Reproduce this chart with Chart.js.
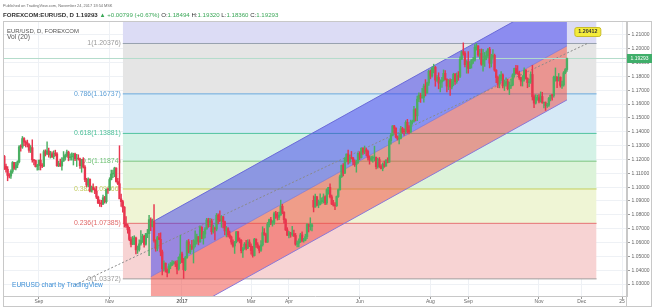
<!DOCTYPE html>
<html>
<head>
<meta charset="utf-8">
<title>EURUSD daily</title>
<script src="https://cdn.jsdelivr.net/npm/chart.js@4.4.1/dist/chart.umd.min.js"></script>
<style>
  html, body { margin: 0; padding: 0; background: #ffffff; }
  #chart { display: block; }
</style>
</head>
<body>
<canvas id="chart" width="654" height="308"></canvas>
<script>
// FOREXCOM:EURUSD daily bars, 1 Aug 2016 .. 24 Nov 2017 (bar index 0..344), one line per month
const opens = [
  1.1173,1.1163,1.1223,1.1150,1.1129,1.1085,1.1080,1.1114,1.1178,1.1138,1.1160,1.1183,1.1291,1.1290,1.1351,1.1326,1.1320,1.1308,1.1266,1.1285,1.1197,1.1192,1.1148,
  1.1157,1.1195,1.1155,1.1152,1.1256,1.1240,1.1262,1.1233,1.1240,1.1220,1.1245,1.1240,1.1155,1.1170,1.1153,1.1188,1.1210,1.1228,1.1253,1.1213,1.1218,1.1222,
  1.1240,1.1205,1.1207,1.1205,1.1155,1.1201,1.1145,1.1055,1.1015,1.1057,1.0972,1.1000,1.0982,1.0972,1.0928,1.0885,1.0882,1.0878,1.0923,1.0895,1.0985,
  1.0981,1.1055,1.1095,1.1101,1.1138,1.1040,1.1025,1.0915,1.0895,1.0855,1.0735,1.0720,1.0692,1.0622,1.0587,1.0628,1.0633,1.0547,1.0550,1.0590,1.0615,1.0645,
  1.0587,1.0663,1.0664,1.0765,1.0718,1.0752,1.0614,1.0558,1.0635,1.0623,1.0532,1.0410,1.0450,1.0400,1.0384,1.0428,1.0436,1.0453,1.0455,1.0445,1.0408,1.0493,
  1.0517,1.0457,1.0403,1.0490,1.0605,1.0532,1.0573,1.0559,1.0584,1.0613,1.0642,1.0604,1.0710,1.0631,1.0661,1.0697,1.0763,1.0732,1.0755,1.0678,1.0699,1.0697,
  1.0797,1.0765,1.0758,1.0785,1.0751,1.0684,1.0700,1.0655,1.0640,1.0603,1.0575,1.0604,1.0677,1.0617,1.0616,1.0541,1.0557,1.0588,1.0560,1.0603,
  1.0574,1.0542,1.0506,1.0624,1.0584,1.0566,1.0544,1.0583,1.0671,1.0657,1.0603,1.0732,1.0765,1.0740,1.0745,1.0808,1.0797,1.0782,1.0798,1.0862,1.0818,1.0765,1.0691,
  1.0652,1.0670,1.0660,1.0663,1.0651,1.0588,1.0595,1.0608,1.0655,1.0615,1.0617,1.0643,1.0730,1.0715,1.0715,1.0905,1.0856,1.0930,1.0870,1.0875,
  1.0895,1.0904,1.0929,1.0886,1.0982,1.0998,1.0930,1.0877,1.0870,1.0865,1.0932,1.0981,1.1075,1.1157,1.1102,1.1206,1.1239,1.1184,1.1216,1.1211,1.1183,1.1164,1.1180,
  1.1244,1.1214,1.1280,1.1252,1.1271,1.1258,1.1212,1.1196,1.1210,1.1212,1.1216,1.1148,1.1199,1.1150,1.1134,1.1166,1.1151,1.1195,1.1180,1.1335,1.1375,1.1442,
  1.1425,1.1362,1.1348,1.1353,1.1422,1.1401,1.1400,1.1468,1.1414,1.1398,1.1470,1.1476,1.1560,1.1515,1.1635,1.1664,1.1645,1.1648,1.1730,1.1680,1.1752,
  1.1836,1.1803,1.1859,1.1866,1.1773,1.1792,1.1752,1.1760,1.1772,1.1822,1.1780,1.1730,1.1770,1.1723,1.1761,1.1815,1.1762,1.1805,1.1800,1.1924,1.1978,1.1967,1.1885,
  1.1905,1.1858,1.1888,1.1918,1.1918,1.2010,1.2020,1.1955,1.1966,1.1888,1.1920,1.1945,1.1950,1.1996,1.1895,1.1940,1.1952,1.1845,1.1792,1.1745,1.1785,
  1.1811,1.1732,1.1744,1.1762,1.1711,1.1731,1.1737,1.1811,1.1857,1.1826,1.1819,1.1792,1.1766,1.1786,1.1845,1.1785,1.1755,1.1761,1.1814,1.1653,1.1607,1.1644,
  1.1645,1.1621,1.1655,1.1609,1.1610,1.1588,1.1592,1.1641,1.1665,1.1662,1.1795,1.1796,1.1768,1.1793,1.1735,1.1738,1.1826,1.18494
];
const highs = [
  1.1190,1.1234,1.1229,1.1167,1.1148,1.1098,1.1125,1.1185,1.1180,1.1180,1.1190,1.1300,1.1305,1.1366,1.1358,1.1335,1.1340,1.1315,1.1300,1.1342,1.1200,1.1195,1.1165,
  1.1195,1.1241,1.1170,1.1267,1.1270,1.1327,1.1282,1.1259,1.1255,1.1262,1.1267,1.1250,1.1188,1.1203,1.1213,1.1257,1.1239,1.1267,1.1260,1.1240,1.1247,1.1245,
  1.1246,1.1237,1.1234,1.1209,1.1200,1.1213,1.1155,1.1064,1.1068,1.1060,1.1008,1.1024,1.0995,1.1005,1.0935,1.0908,1.0905,1.0942,1.0933,1.0986,1.0994,
  1.1068,1.1124,1.1123,1.1144,1.1140,1.1063,1.1299,1.0950,1.0905,1.0860,1.0788,1.0732,1.0710,1.0640,1.0644,1.0649,1.0640,1.0575,1.0619,1.0686,1.0660,1.0652,
  1.0666,1.0695,1.0796,1.0778,1.0770,1.0874,1.0620,1.0645,1.0667,1.0670,1.0545,1.0467,1.0453,1.0410,1.0446,1.0456,1.0470,1.0466,1.0466,1.0469,1.0497,1.0653,
  1.0530,1.0485,1.0500,1.0616,1.0622,1.0585,1.0615,1.0620,1.0685,1.0660,1.0643,1.0720,1.0715,1.0680,1.0707,1.0775,1.0775,1.0775,1.0770,1.0726,1.0711,1.0810,
  1.0808,1.0829,1.0795,1.0789,1.0755,1.0716,1.0708,1.0683,1.0647,1.0620,1.0608,1.0679,1.0680,1.0633,1.0622,1.0566,1.0600,1.0616,1.0619,1.0620,
  1.0590,1.0572,1.0630,1.0626,1.0599,1.0575,1.0614,1.0714,1.0700,1.0666,1.0745,1.0770,1.0782,1.0758,1.0819,1.0826,1.0818,1.0820,1.0906,1.0876,1.0823,1.0772,1.0707,
  1.0681,1.0674,1.0716,1.0690,1.0666,1.0613,1.0626,1.0667,1.0677,1.0630,1.0660,1.0736,1.0733,1.0779,1.0737,1.0937,1.0950,1.0933,1.0907,1.0951,
  1.0923,1.0951,1.0938,1.0987,1.0999,1.1023,1.0943,1.0905,1.0888,1.0936,1.0987,1.1087,1.1160,1.1171,1.1213,1.1240,1.1268,1.1232,1.1258,1.1216,1.1198,1.1195,1.1250,
  1.1256,1.1285,1.1285,1.1297,1.1282,1.1268,1.1225,1.1224,1.1226,1.1296,1.1218,1.1208,1.1214,1.1162,1.1175,1.1188,1.1199,1.1212,1.1349,1.1389,1.1445,1.1446,
  1.1430,1.1370,1.1380,1.1439,1.1432,1.1422,1.1480,1.1490,1.1445,1.1484,1.1484,1.1583,1.1567,1.1658,1.1682,1.1679,1.1713,1.1745,1.1777,1.1758,1.1846,
  1.1846,1.1867,1.1888,1.1872,1.1805,1.1826,1.1775,1.1794,1.1847,1.1842,1.1782,1.1778,1.1782,1.1779,1.1823,1.1822,1.1825,1.1835,1.1941,1.1980,1.2042,1.1980,1.1914,
  1.1980,1.1907,1.1922,1.1938,1.2030,1.2038,1.2022,1.1995,1.1998,1.1996,1.1973,1.1984,1.2003,1.2010,1.1960,1.1994,1.1961,1.1850,1.1803,1.1812,1.1834,
  1.1818,1.1774,1.1790,1.1779,1.1761,1.1783,1.1819,1.1860,1.1880,1.1878,1.1838,1.1794,1.1806,1.1861,1.1850,1.1790,1.1781,1.1833,1.1880,1.1667,1.1668,1.1665,
  1.1669,1.1688,1.1685,1.1615,1.1616,1.1606,1.1649,1.1665,1.1671,1.1802,1.1861,1.1796,1.1821,1.1797,1.1766,1.1835,1.1857,1.19320
];
const lows = [
  1.1145,1.1155,1.1127,1.1109,1.1046,1.1066,1.1063,1.1100,1.1128,1.1125,1.1140,1.1175,1.1260,1.1280,1.1300,1.1290,1.1290,1.1250,1.1250,1.1180,1.1160,1.1145,1.1122,
  1.1125,1.1124,1.1140,1.1148,1.1225,1.1235,1.1217,1.1210,1.1212,1.1205,1.1225,1.1150,1.1148,1.1150,1.1122,1.1186,1.1195,1.1220,1.1190,1.1195,1.1195,1.1160,
  1.1192,1.1149,1.1195,1.1136,1.1107,1.1138,1.1040,1.1002,1.1004,1.0965,1.0964,1.0981,1.0953,1.0917,1.0880,1.0860,1.0858,1.0874,1.0885,1.0884,1.0955,
  1.0974,1.1052,1.1069,1.1075,1.1035,1.1017,1.0995,1.0860,1.0820,1.0712,1.0709,1.0667,1.0613,1.0569,1.0584,1.0585,1.0517,1.0521,1.0538,1.0580,1.0600,1.0567,
  1.0580,1.0635,1.0505,1.0685,1.0712,1.0603,1.0537,1.0540,1.0620,1.0504,1.0366,1.0393,1.0386,1.0352,1.0378,1.0410,1.0435,1.0445,1.0426,1.0374,1.0400,1.0448,
  1.0455,1.0340,1.0396,1.0485,1.0524,1.0520,1.0548,1.0452,1.0568,1.0590,1.0583,1.0602,1.0628,1.0588,1.0634,1.0697,1.0710,1.0715,1.0660,1.0667,1.0618,1.0684,
  1.0735,1.0750,1.0710,1.0705,1.0656,1.0640,1.0641,1.0630,1.0587,1.0567,1.0521,1.0597,1.0608,1.0597,1.0524,1.0493,1.0550,1.0546,1.0555,1.0570,
  1.0516,1.0495,1.0502,1.0565,1.0558,1.0525,1.0535,1.0574,1.0652,1.0600,1.0600,1.0712,1.0728,1.0718,1.0731,1.0774,1.0762,1.0765,1.0797,1.0808,1.0740,1.0687,1.0651,
  1.0634,1.0638,1.0646,1.0643,1.0580,1.0569,1.0568,1.0600,1.0604,1.0602,1.0612,1.0628,1.0676,1.0689,1.0683,1.0821,1.0855,1.0864,1.0851,1.0872,
  1.0882,1.0885,1.0873,1.0876,1.0949,1.0922,1.0874,1.0863,1.0838,1.0861,1.0926,1.0978,1.1070,1.1081,1.1097,1.1182,1.1166,1.1173,1.1203,1.1161,1.1150,1.1108,1.1171,
  1.1199,1.1210,1.1236,1.1241,1.1225,1.1195,1.1166,1.1187,1.1180,1.1190,1.1132,1.1137,1.1142,1.1132,1.1118,1.1143,1.1153,1.1175,1.1180,1.1311,1.1370,1.1389,
  1.1355,1.1340,1.1313,1.1349,1.1389,1.1374,1.1385,1.1390,1.1385,1.1395,1.1454,1.1469,1.1478,1.1480,1.1618,1.1612,1.1643,1.1613,1.1659,1.1678,1.1735,
  1.1782,1.1795,1.1825,1.1729,1.1763,1.1710,1.1688,1.1720,1.1766,1.1775,1.1688,1.1704,1.1662,1.1710,1.1732,1.1742,1.1750,1.1772,1.1790,1.1922,1.1953,1.1868,1.1823,
  1.1823,1.1855,1.1860,1.1894,1.1910,1.1990,1.1944,1.1924,1.1880,1.1837,1.1872,1.1920,1.1930,1.1861,1.1868,1.1925,1.1837,1.1754,1.1718,1.1717,1.1770,
  1.1716,1.1698,1.1729,1.1702,1.1669,1.1714,1.1732,1.1795,1.1820,1.1814,1.1778,1.1732,1.1730,1.1765,1.1780,1.1718,1.1726,1.1750,1.1629,1.1574,1.1600,1.1628,
  1.1608,1.1614,1.1606,1.1572,1.1554,1.1575,1.1583,1.1623,1.1628,1.1650,1.1765,1.1718,1.1767,1.1722,1.1713,1.1729,1.1819,1.18360
];
const closes = [
  1.1163,1.1223,1.1150,1.1129,1.1085,1.1080,1.1114,1.1178,1.1138,1.1160,1.1183,1.1291,1.1290,1.1351,1.1326,1.1320,1.1308,1.1266,1.1285,1.1197,1.1192,1.1148,1.1157,
  1.1195,1.1155,1.1152,1.1256,1.1240,1.1262,1.1233,1.1240,1.1220,1.1245,1.1240,1.1155,1.1170,1.1153,1.1188,1.1210,1.1228,1.1253,1.1213,1.1218,1.1222,1.1240,
  1.1205,1.1207,1.1205,1.1155,1.1201,1.1145,1.1055,1.1015,1.1057,1.0972,1.1000,1.0982,1.0972,1.0928,1.0885,1.0882,1.0878,1.0923,1.0895,1.0985,1.0981,
  1.1055,1.1095,1.1101,1.1138,1.1040,1.1025,1.0915,1.0895,1.0855,1.0735,1.0720,1.0692,1.0622,1.0587,1.0628,1.0633,1.0547,1.0550,1.0590,1.0615,1.0645,1.0587,
  1.0663,1.0664,1.0765,1.0718,1.0752,1.0614,1.0558,1.0635,1.0623,1.0532,1.0410,1.0450,1.0400,1.0384,1.0428,1.0436,1.0453,1.0455,1.0445,1.0408,1.0493,1.0517,
  1.0457,1.0403,1.0490,1.0605,1.0532,1.0573,1.0559,1.0584,1.0613,1.0642,1.0604,1.0710,1.0631,1.0661,1.0697,1.0763,1.0732,1.0755,1.0678,1.0699,1.0697,1.0797,
  1.0765,1.0758,1.0785,1.0751,1.0684,1.0700,1.0655,1.0640,1.0603,1.0575,1.0604,1.0677,1.0617,1.0616,1.0541,1.0557,1.0588,1.0560,1.0603,1.0574,
  1.0542,1.0506,1.0624,1.0584,1.0566,1.0544,1.0583,1.0671,1.0657,1.0603,1.0732,1.0765,1.0740,1.0745,1.0808,1.0797,1.0782,1.0798,1.0862,1.0818,1.0765,1.0691,1.0652,
  1.0670,1.0660,1.0663,1.0651,1.0588,1.0595,1.0608,1.0655,1.0615,1.0617,1.0643,1.0730,1.0715,1.0715,1.0727,1.0856,1.0930,1.0870,1.0875,1.0895,
  1.0904,1.0929,1.0886,1.0982,1.0998,1.0930,1.0877,1.0870,1.0865,1.0932,1.0981,1.1075,1.1157,1.1102,1.1206,1.1239,1.1184,1.1216,1.1211,1.1183,1.1164,1.1180,1.1244,
  1.1214,1.1280,1.1252,1.1271,1.1258,1.1212,1.1196,1.1210,1.1212,1.1216,1.1148,1.1199,1.1150,1.1134,1.1166,1.1151,1.1195,1.1180,1.1335,1.1375,1.1442,1.1425,
  1.1362,1.1348,1.1353,1.1422,1.1401,1.1400,1.1468,1.1414,1.1398,1.1470,1.1476,1.1560,1.1515,1.1635,1.1664,1.1645,1.1648,1.1730,1.1680,1.1752,1.1836,
  1.1803,1.1859,1.1866,1.1773,1.1792,1.1752,1.1760,1.1772,1.1822,1.1780,1.1730,1.1770,1.1723,1.1761,1.1815,1.1762,1.1805,1.1800,1.1924,1.1978,1.1967,1.1885,1.1905,
  1.1858,1.1888,1.1918,1.1918,1.2010,1.2020,1.1955,1.1966,1.1888,1.1920,1.1945,1.1950,1.1996,1.1895,1.1940,1.1952,1.1845,1.1792,1.1745,1.1785,1.1811,
  1.1732,1.1744,1.1762,1.1711,1.1731,1.1737,1.1811,1.1857,1.1826,1.1819,1.1792,1.1766,1.1786,1.1845,1.1785,1.1755,1.1761,1.1814,1.1653,1.1607,1.1644,1.1645,
  1.1621,1.1655,1.1609,1.1610,1.1588,1.1592,1.1641,1.1665,1.1662,1.1795,1.1796,1.1768,1.1793,1.1735,1.1738,1.1826,1.18494,1.19293
];

// time axis: bar index of each label
const timeTickBars = [23, 66, 110, 152, 175, 218, 261, 284, 327, 353, 377.5];
const timeTickLabels = ['Sep', 'Nov', '2017', 'Mar', 'Apr', 'Jun', 'Aug', 'Sep', 'Nov', 'Dec', '25'];
const priceTicks = [1.03, 1.04, 1.05, 1.06, 1.07, 1.08, 1.09, 1.10, 1.11, 1.12, 1.13, 1.14, 1.15, 1.16, 1.17, 1.18, 1.19, 1.20, 1.21];

// fib retracement
const fibLevels = [0, 0.236, 0.382, 0.5, 0.618, 0.786, 1, 1.618];
const fibPrices = [1.03372, 1.07385, 1.09866, 1.11874, 1.13881, 1.16737, 1.20376, 1.30885];
const fibBars = [74, 362];

// parallel channel (mid line anchors + half width) and dashed trend line
const channelBars = [91, 344];
const channelMid = [1.0352, 1.2020];
const channelHalf = 0.039;
const trendBars = [45, 357];
const trendPrices = [1.0293, 1.20412];

const lastPrice = 1.19293;

const FAM = "'Liberation Sans', Arial, sans-serif";
const UP = '#4caf63';
const DOWN = '#e8364f';
const fibLineColors = ['#a0a0a0', '#e57373', '#c5cf5c', '#7cc47f', '#52c4a0', '#6aa8da', '#98a2b0', 'rgba(0,0,0,0)'];
const fibBandColors = [null, '#f7d3d3', '#eff5d5', '#dcf3d9', '#d4f2e6', '#d5e9f6', '#e5e5e5', '#dcdcf5'];
const fibTextColors = ['#9a9a9a', '#e06a6a', '#c2cc60', '#6cc070', '#4cbf98', '#5d9fd6', '#9a9a9a'];

const candleColor = i => closes[i] >= opens[i] ? UP : DOWN;
const wickData = closes.map((c, i) => ({ x: i, y: [lows[i], highs[i]] }));
const bodyData = closes.map((c, i) => ({ x: i, y: [opens[i], c] }));

const xMin = 1.2, xMax = 380.5;
const yMin = 1.02136, yMax = 1.21929;

function seg(xs, ys) {
  return [{ x: xs[0], y: ys[0] }, { x: xs[1], y: ys[1] }];
}

const datasets = [
  { type: 'bar', data: wickData, backgroundColor: c => candleColor(c.dataIndex), barThickness: 0.8, grouped: false, order: 0 },
  { type: 'bar', data: bodyData, backgroundColor: c => candleColor(c.dataIndex), barThickness: 1.7, minBarLength: 0.6, grouped: false, order: 0 },
  { type: 'line', data: seg([xMin, xMax], [lastPrice, lastPrice]), borderColor: '#b3dccb', borderWidth: 1, pointRadius: 0, fill: false, order: 1 },
  { type: 'line', data: seg(trendBars, trendPrices), borderColor: '#8a8a8a', borderWidth: 1, borderDash: [2, 2], pointRadius: 0, fill: false, order: 1 },
  // channel: top (4), mid (5), bottom (6)
  { type: 'line', data: seg(channelBars, [channelMid[0] + channelHalf, channelMid[1] + channelHalf]), borderColor: '#6a6ad8', borderWidth: 1, pointRadius: 0, fill: false, order: 2 },
  { type: 'line', data: seg(channelBars, channelMid), borderColor: 'rgba(120,110,210,0.6)', borderWidth: 1, pointRadius: 0,
    fill: { target: 4 }, backgroundColor: 'rgba(60,60,235,0.5)', order: 2 },
  { type: 'line', data: seg(channelBars, [channelMid[0] - channelHalf, channelMid[1] - channelHalf]), borderColor: '#8a78d8', borderWidth: 1, pointRadius: 0,
    fill: { target: 5 }, backgroundColor: 'rgba(240,70,62,0.5)', order: 2 }
];
// fib levels start at dataset index 7
fibPrices.forEach((p, k) => {
  datasets.push({
    type: 'line',
    data: seg(fibBars, [p, p]),
    borderColor: fibLineColors[k],
    borderWidth: 1,
    pointRadius: 0,
    fill: k === 0 ? false : { target: 7 + k - 1 },
    backgroundColor: fibBandColors[k] || 'rgba(0,0,0,0)',
    order: 3
  });
});

function fitSize(ctx, text, weight, width) {
  ctx.font = weight + ' 10px ' + FAM;
  return 10 * width / ctx.measureText(text).width;
}

const overlay = {
  id: 'overlay',
  beforeDatasetsDraw(chart) {
    const ctx = chart.ctx;
    const x = chart.scales.x, y = chart.scales.y;
    const fs = fitSize(ctx, '0.786(1.16737)', 'normal', 47);
    ctx.save();
    ctx.font = fs + 'px ' + FAM;
    ctx.textAlign = 'right';
    ctx.textBaseline = 'middle';
    fibLevels.forEach((lv, k) => {
      if (k >= fibTextColors.length) return;
      ctx.fillStyle = fibTextColors[k];
      ctx.fillText(lv + '(' + fibPrices[k].toFixed(5) + ')', x.getPixelForValue(fibBars[0]) - 2, y.getPixelForValue(fibPrices[k]));
    });
    ctx.restore();
  },
  afterDraw(chart) {
    const ctx = chart.ctx;
    const x = chart.scales.x, y = chart.scales.y;
    const area = chart.chartArea;
    ctx.save();

    // frame
    ctx.strokeStyle = '#c8c8c8';
    ctx.lineWidth = 1;
    ctx.strokeRect(3.5, 21.5, 648, 285);
    ctx.beginPath();
    ctx.moveTo(Math.round(area.right) - 0.5, 22);
    ctx.lineTo(Math.round(area.right) - 0.5, 306);
    ctx.stroke();

    // header
    ctx.textBaseline = 'middle';
    ctx.textAlign = 'left';
    const h1 = 'Published on TradingView.com, November 24, 2017 18:54 MSK';
    ctx.font = fitSize(ctx, h1, 'normal', 110) + 'px ' + FAM;
    ctx.fillStyle = '#6a6a6a';
    ctx.fillText(h1, 3, 6);

    const G = '#3aa757', D = '#333333';
    const parts = [
      ['FOREXCOM:EURUSD, D 1.19293 ', D, 'bold'], ['\u25B2 +0.00799 (+0.67%) ', G, 'normal'],
      ['O:', D, 'normal'], ['1.18494', G, 'normal'], [' H:', D, 'normal'], ['1.19320', G, 'normal'],
      [' L:', D, 'normal'], ['1.18360', G, 'normal'], [' C:', D, 'normal'], ['1.19293', G, 'normal']
    ];
    let total = 0;
    parts.forEach(p => { ctx.font = p[2] + ' 10px ' + FAM; total += ctx.measureText(p[0]).width; });
    const s2 = 10 * 276 / total;
    let px = 3;
    parts.forEach(p => {
      ctx.font = p[2] + ' ' + s2 + 'px ' + FAM;
      ctx.fillStyle = p[1];
      ctx.fillText(p[0], px, 15);
      px += ctx.measureText(p[0]).width;
    });

    // pane legend
    ctx.fillStyle = '#555555';
    ctx.font = fitSize(ctx, 'EUR/USD, D, FOREXCOM', 'normal', 72) + 'px ' + FAM;
    ctx.fillText('EUR/USD, D, FOREXCOM', 7, 31);
    ctx.font = fitSize(ctx, 'Vol (20)', 'normal', 23) + 'px ' + FAM;
    ctx.fillText('Vol (20)', 7, 37.5);

    // watermark link
    ctx.fillStyle = '#3d8fd6';
    ctx.font = fitSize(ctx, 'EURUSD chart by TradingView', 'normal', 91) + 'px ' + FAM;
    ctx.fillText('EURUSD chart by TradingView', 12, 285.5);

    // trend line price label
    const tx = x.getPixelForValue(trendBars[1]);
    const ty = y.getPixelForValue(trendPrices[1]);
    const bw = 26, bh = 9;
    const bx = tx - 14, by = ty - 16;
    ctx.fillStyle = '#f4ec3c';
    ctx.strokeStyle = '#c9bd2a';
    ctx.beginPath();
    ctx.roundRect(bx + 0.5, by + 0.5, bw, bh, 2);
    ctx.fill();
    ctx.stroke();
    ctx.fillStyle = '#333333';
    ctx.textAlign = 'center';
    ctx.font = 'bold ' + fitSize(ctx, '1.20412', 'bold', 19) + 'px ' + FAM;
    ctx.fillText(trendPrices[1].toFixed(5), bx + 0.5 + bw / 2, by + 0.5 + bh / 2);

    // last price label on the price axis
    const ly = y.getPixelForValue(lastPrice);
    ctx.fillStyle = '#3fae6a';
    ctx.fillRect(area.right, ly - 4.5, 25, 9);
    ctx.fillStyle = '#ffffff';
    ctx.font = fitSize(ctx, '1.19293', 'normal', 18) + 'px ' + FAM;
    ctx.fillText(lastPrice.toFixed(5), area.right + 12.5, ly);
    ctx.restore();
  }
};

Chart.defaults.font.family = FAM;

new Chart(document.getElementById('chart'), {
  type: 'bar',
  data: { datasets: datasets },
  options: {
    responsive: false,
    animation: false,
    devicePixelRatio: 1,
    layout: { padding: { left: 3, right: 2, top: 22, bottom: 2 } },
    plugins: { legend: { display: false }, tooltip: { enabled: false } },
    scales: {
      x: {
        type: 'linear',
        min: xMin,
        max: xMax,
        offset: false,
        afterFit: s => { s.height = 10; },
        afterBuildTicks: s => { s.ticks = timeTickBars.map(v => ({ value: v })); },
        grid: { color: '#eef1f5', tickLength: 3, tickColor: '#9a9a9a', offset: false },
        border: { color: '#c8c8c8' },
        ticks: {
          autoSkip: false,
          maxRotation: 0,
          padding: 0,
          color: '#666666',
          font: c => ({ size: 5, weight: timeTickLabels[c.index] === '2017' ? 'bold' : 'normal' }),
          callback: (v, i) => timeTickLabels[i]
        }
      },
      y: {
        position: 'right',
        min: yMin,
        max: yMax,
        afterFit: s => { s.width = 25; },
        afterBuildTicks: s => { s.ticks = priceTicks.map(v => ({ value: v })); },
        grid: { color: '#eef1f5', tickLength: 3, tickColor: '#9a9a9a' },
        border: { color: '#c8c8c8' },
        ticks: {
          padding: 1.5,
          color: '#666666',
          font: { size: 5 },
          callback: v => v.toFixed(5)
        }
      }
    }
  },
  plugins: [overlay]
});
</script>
</body>
</html>
